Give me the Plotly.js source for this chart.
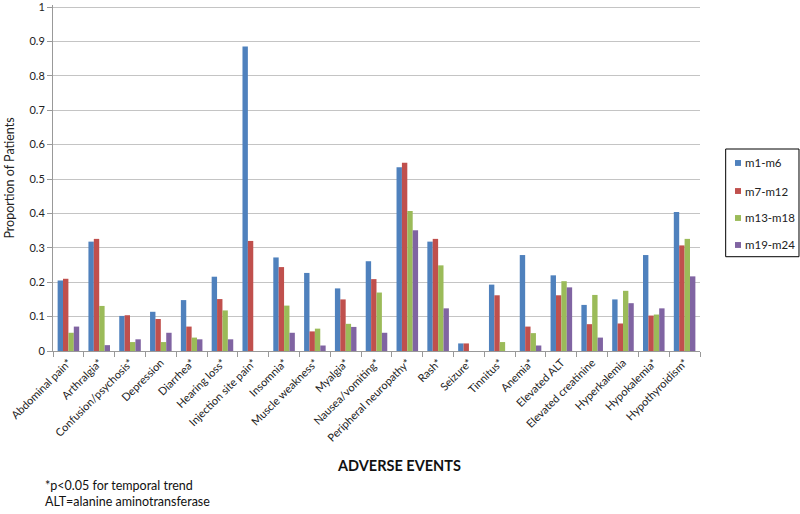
<!DOCTYPE html>
<html>
<head>
<meta charset="utf-8">
<script src="https://cdn.plot.ly/plotly-3.0.1.min.js"></script>
<style>html,body{margin:0;padding:0;background:#fff;}#chart{width:800px;height:514px;}</style>
</head>
<body>
<div id="chart"></div>
<script>
const categories = ["Abdominal pain*","Arthralgia*","Confusion/psychosis*","Depression","Diarrhea*","Hearing loss*","Injection site pain*","Insomnia*","Muscle weakness*","Myalgia*","Nausea/vomiting*","Peripheral neuropathy*","Rash*","Seizure*","Tinnitus*","Anemia*","Elevated ALT","Elevated creatinine","Hyperkalemia","Hypokalemia*","Hypothyroidism*"];
const m1_m6   = [0.205,0.318,0.102,0.114,0.148,0.216,0.885,0.272,0.227,0.182,0.261,0.534,0.318,0.022,0.193,0.279,0.220,0.134,0.150,0.279,0.404];
const m7_m12  = [0.210,0.326,0.104,0.093,0.071,0.151,0.320,0.244,0.057,0.150,0.209,0.547,0.326,0.022,0.162,0.071,0.162,0.078,0.080,0.103,0.307];
const m13_m18 = [0.053,0.131,0.026,0.026,0.039,0.118,0,0.132,0.065,0.079,0.170,0.407,0.249,0,0.026,0.052,0.203,0.163,0.175,0.106,0.326];
const m19_m24 = [0.071,0.017,0.034,0.053,0.034,0.034,0,0.053,0.016,0.070,0.053,0.351,0.124,0,0,0.016,0.185,0.039,0.139,0.124,0.217];
const seriesNames = ["m1-m6","m7-m12","m13-m18","m19-m24"];
const seriesColors = ["#4F81BD","#C0504D","#9BBB59","#8064A2"];
const yTicks = [0,0.1,0.2,0.3,0.4,0.5,0.6,0.7,0.8,0.9,1];
const yTickText = ["0","0.1","0.2","0.3","0.4","0.5","0.6","0.7","0.8","0.9","1"];
const footnotes = ["*p<0.05 for temporal trend", "ALT=alanine aminotransferase"];

const series = [m1_m6, m7_m12, m13_m18, m19_m24];
const data = series.map((vals, i) => ({
  type: 'bar', x: categories, y: vals, name: seriesNames[i],
  showlegend: false,
  marker: {color: seriesColors[i], line: {width: 0}}
}));

const font = "Lato, 'Open Sans', sans-serif";

// custom legend (box, swatches, labels) in paper coordinates
const legX0 = 1.0397, legX1 = 1.153, legY0 = 0.2725, legY1 = 0.5838;
const legItemY = [0.5434, 0.4624, 0.3844, 0.3064];
const shapes = [{type: 'rect', xref: 'paper', yref: 'paper', x0: legX0, x1: legX1, y0: legY0, y1: legY1,
  line: {color: '#000', width: 1}, fillcolor: 'rgba(0,0,0,0)'}];
const annotations = [];
seriesNames.forEach((nm, i) => {
  shapes.push({type: 'rect', xref: 'paper', yref: 'paper', x0: 1.0541, x1: 1.0634,
    y0: legItemY[i] - 0.0085, y1: legItemY[i] + 0.0085, line: {width: 0}, fillcolor: seriesColors[i]});
  annotations.push({text: nm, xref: 'paper', yref: 'paper', x: 1.0665, y: legItemY[i],
    xanchor: 'left', yanchor: 'middle', showarrow: false, font: {family: font, size: 11.5, color: '#222'}});
});
annotations.push(
  {text: '<b>ADVERSE EVENTS</b>', xref: 'paper', yref: 'paper', x: 0.5348, y: -0.3295,
   xanchor: 'center', yanchor: 'middle', showarrow: false, font: {family: font, size: 14.5, color: '#111'}},
  {text: footnotes.join('<br>'), xref: 'paper', yref: 'paper', x: -0.0155, y: -0.463,
   xanchor: 'left', yanchor: 'bottom', align: 'left', showarrow: false, font: {family: font, size: 12.5, color: '#111'}}
);

const layout = {
  width: 800, height: 514,
  margin: {l: 53, r: 100, t: 5, b: 163},
  paper_bgcolor: '#fff', plot_bgcolor: '#fff',
  font: {family: font, size: 11, color: '#222'},
  barmode: 'group', bargap: 0.3, bargroupgap: 0,
  showlegend: false,
  xaxis: {
    type: 'category', tickangle: -45, tickson: 'boundaries',
    ticks: 'outside', ticklen: 5, tickcolor: '#999',
    showline: true, linecolor: '#999', linewidth: 1,
    showgrid: false, tickfont: {family: font, size: 11, color: '#222'},
    automargin: false
  },
  yaxis: {
    range: [0, 1.006], tickvals: yTicks, ticktext: yTickText,
    ticks: 'outside', ticklen: 5, tickcolor: '#999',
    showline: true, linecolor: '#999', linewidth: 1,
    showgrid: true, gridcolor: '#c4c4c4', gridwidth: 1,
    zeroline: false, ticklabeloverflow: 'allow',
    tickfont: {family: font, size: 11, color: '#222'},
    title: {text: 'Proportion of Patients', font: {family: font, size: 12.5, color: '#222'}, standoff: 12},
    automargin: false
  },
  shapes: shapes,
  annotations: annotations
};

Plotly.newPlot('chart', data, layout, {displayModeBar: false, staticPlot: true});
</script>
</body>
</html>
